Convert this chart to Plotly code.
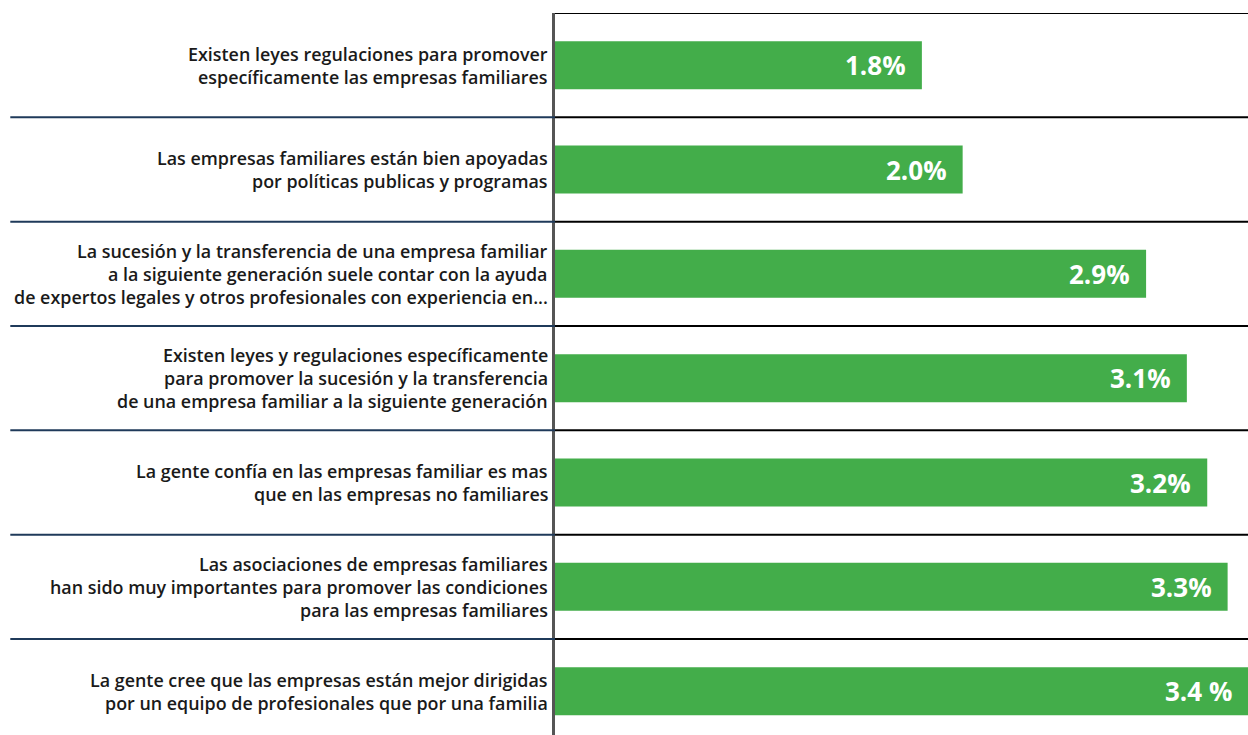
import plotly.graph_objects as go

# Survey statements (each entry is a list of display lines) and their scores
statements = [
    ["Existen leyes regulaciones para promover", "específicamente las empresas familiares"],
    ["Las empresas familiares están bien apoyadas", "por políticas publicas y programas"],
    ["La sucesión y la transferencia de una empresa familiar",
     "a la siguiente generación suele contar con la ayuda",
     "de expertos legales y otros profesionales con experiencia en..."],
    ["Existen leyes y regulaciones específicamente",
     "para promover la sucesión y la transferencia",
     "de una empresa familiar a la siguiente generación"],
    ["La gente confía en las empresas familiar es mas", "que en las empresas no familiares"],
    ["Las asociaciones de empresas familiares",
     "han sido muy importantes para promover las condiciones",
     "para las empresas familiares"],
    ["La gente cree que las empresas están mejor dirigidas",
     "por un equipo de profesionales que por una familia"],
]
scores = [1.8, 2.0, 2.9, 3.1, 3.2, 3.3, 3.4]
score_labels = ["1.8%", "2.0%", "2.9%", "3.1%", "3.2%", "3.3%", "3.4 %"]

GREEN = "#43AD4A"
NAVY = "#1F3A5A"
FONT = "Open Sans"
LINE_H = 23

rows = list(range(len(statements)))

fig = go.Figure(
    go.Bar(
        x=scores,
        y=rows,
        orientation="h",
        marker=dict(color=GREEN, line=dict(width=0)),
        width=0.46,
        hoverinfo="skip",
    )
)

annotations = []
# statement text, right-aligned against the axis, one annotation per line
for r, lines in zip(rows, statements):
    n = len(lines)
    for k, line in enumerate(lines):
        annotations.append(dict(
            x=0, xref="paper", y=r, yref="y",
            text=line, showarrow=False,
            xanchor="right", yanchor="middle",
            xshift=-5, yshift=((n - 1) / 2 - k) * LINE_H,
            font=dict(family=FONT, size=17.9, color="#1a1a1a", weight=600),
        ))
# score labels inside the bar ends
for r, v, lab in zip(rows, scores, score_labels):
    annotations.append(dict(
        x=v, xref="x", y=r, yref="y",
        text=lab, showarrow=False,
        xanchor="right", yanchor="middle", xshift=-14,
        font=dict(family=FONT, size=26, color="white", weight=700),
    ))

shapes = []
# row separators: navy across the label column, black across the plot
for r in rows[:-1]:
    yb = r + 0.5
    shapes.append(dict(type="line", xref="paper", yref="y",
                       x0=-0.786, x1=0, y0=yb, y1=yb,
                       line=dict(color=NAVY, width=2)))
    shapes.append(dict(type="line", xref="paper", yref="y",
                       x0=0, x1=1, y0=yb, y1=yb,
                       line=dict(color="black", width=2)))
# top border of the plot
shapes.append(dict(type="line", xref="paper", yref="y",
                   x0=0, x1=1, y0=-0.5, y1=-0.5,
                   line=dict(color="black", width=2)))

fig.update_layout(
    width=1248, height=735,
    margin=dict(l=555, r=0, t=13, b=0),
    paper_bgcolor="white", plot_bgcolor="white",
    showlegend=False,
    annotations=annotations,
    shapes=shapes,
    xaxis=dict(range=[0, 3.4], visible=False, fixedrange=True),
    yaxis=dict(range=[6.42, -0.5], showticklabels=False, showgrid=False,
               zeroline=False, showline=True, linecolor="#555555",
               linewidth=3, ticks="", fixedrange=True),
)

fig.write_html("out.html", config={"displayModeBar": False})
